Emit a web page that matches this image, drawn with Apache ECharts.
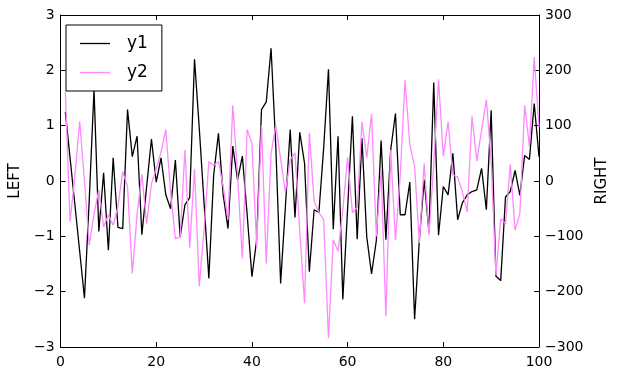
<!DOCTYPE html>
<html>
<head>
<meta charset="utf-8">
<script src="https://cdn.jsdelivr.net/npm/echarts@6/dist/echarts.min.js"></script>
<style>
  html, body { margin: 0; padding: 0; background: #fff; }
  #chart { width: 618px; height: 377px; }
</style>
</head>
<body>
<div id="chart"></div>
<script>
// x positions 1..100
const xs = [];
for (let i = 1; i <= 100; i++) xs.push(i);

// y1 on the LEFT axis
const y1 = [
  1.25, 0.41, -0.43, -1.27, -2.12, -0.34, 1.65, -0.91, 0.15, -1.25,
  0.42, -0.84, -0.86, 1.29, 0.44, 0.81, -0.97, -0.1, 0.76, -0.02,
  0.42, -0.25, -0.5, 0.38, -1.01, -0.43, -0.3, 2.2, 0.95, -0.4,
  -1.76, 0.1, 0.86, -0.25, -0.86, 0.63, 0.02, 0.45, -0.6, -1.73,
  -1.06, 1.29, 1.43, 2.4, 0.6, -1.85, -0.46, 0.93, -0.66, 0.88,
  0.32, -1.64, -0.52, -0.57, 0.6, 2.02, -0.87, 0.81, -2.14, -0.5,
  1.17, -1.05, 0.77, -1.01, -1.68, -1.08, 0.73, -1.06, 0.56, 1.22,
  -0.61, -0.61, -0.02, -2.5, -1.06, 0.02, -0.92, 1.78, -0.98, -0.1,
  -0.25, 0.5, -0.7, -0.39, -0.25, -0.19, -0.16, 0.23, -0.52, 1.28,
  -1.72, -1.8, -0.29, -0.19, 0.19, -0.26, 0.46, 0.39, 1.4, 0.44
];

// y2 on the RIGHT axis
const y2 = [
  162, -73, 10, 108, 0, -116, -60, -16, -83, -61,
  -80, -46, 17, -10, -167, -60, 12, -77, -5, 22,
  52, 93, -20, -104, -101, 56, -120, 22, -190, -88,
  35, 28, 35, -10, -70, 137, 10, -140, 93, 68,
  -120, 101, -149, 50, 100, 40, -20, 38, 51, -90,
  -221, 87, -37, -57, -70, -284, -106, -127, -52, 43,
  -57, -48, 107, 42, 121, -100, 20, -245, 56, -107,
  10, 182, 66, 26, -112, 32, -98, 30, 184, 45,
  107, 11, 7, -20, -56, 117, 36, 92, 147, 35,
  -170, -68, -77, 30, -89, -59, 137, 62, 224, 97
];

const font = 'DejaVu Sans';
const pink = '#ff88ff';
const minus = v => String(v).replace('-', '\u2212');

const chart = echarts.init(document.getElementById('chart'), null, { renderer: 'canvas' });

const tick = { show: true, inside: true, length: 5, lineStyle: { color: '#000', width: 1 } };
const line = { show: true, onZero: false, lineStyle: { color: '#000', width: 1 } };

chart.setOption({
  animation: false,
  backgroundColor: '#fff',
  grid: { left: 56, right: 79, top: 15, bottom: 30 },
  legend: {
    orient: 'vertical',
    left: 66,
    top: 25,
    padding: [10, 14, 10, 14],
    itemGap: 12,
    itemWidth: 30,
    itemHeight: 1.3,
    borderColor: '#000',
    borderWidth: 1,
    borderRadius: 0,
    backgroundColor: '#fff',
    textStyle: { fontFamily: font, fontSize: 17, color: '#000', lineHeight: 16, padding: [0, 0, 0, 12] },
    data: [
      { name: 'y1', icon: 'rect', itemStyle: { color: '#000' } },
      { name: 'y2', icon: 'rect', itemStyle: { color: pink } }
    ]
  },
  xAxis: [
    {
      type: 'value', min: 0, max: 100, interval: 20, position: 'bottom',
      axisLine: line, axisTick: tick, splitLine: { show: false },
      axisLabel: { fontFamily: font, fontSize: 14, color: '#000', margin: 8 }
    },
    {
      type: 'value', min: 0, max: 100, interval: 20, position: 'top',
      axisLine: line, axisTick: tick, splitLine: { show: false },
      axisLabel: { show: false }
    }
  ],
  yAxis: [
    {
      type: 'value', min: -3, max: 3, interval: 1, position: 'left',
      name: 'LEFT', nameLocation: 'middle', nameGap: 33, nameRotate: 90,
      nameTextStyle: { fontFamily: font, fontSize: 15, color: '#000' },
      axisLine: line, axisTick: tick, splitLine: { show: false },
      axisLabel: { fontFamily: font, fontSize: 14, color: '#000', margin: 6, formatter: minus }
    },
    {
      type: 'value', min: -300, max: 300, interval: 100, position: 'right',
      name: 'RIGHT', nameLocation: 'middle', nameGap: 55, nameRotate: 90,
      nameTextStyle: { fontFamily: font, fontSize: 15, color: '#000' },
      axisLine: line, axisTick: tick, splitLine: { show: false },
      axisLabel: { fontFamily: font, fontSize: 14, color: '#000', margin: 6, formatter: minus }
    }
  ],
  series: [
    {
      name: 'y1', type: 'line', xAxisIndex: 0, yAxisIndex: 0,
      symbol: 'none', color: '#000',
      lineStyle: { color: '#000', width: 1.3 },
      data: xs.map((x, i) => [x, y1[i]])
    },
    {
      name: 'y2', type: 'line', xAxisIndex: 0, yAxisIndex: 1,
      symbol: 'none', color: pink,
      lineStyle: { color: pink, width: 1.3 },
      data: xs.map((x, i) => [x, y2[i]])
    }
  ]
});
</script>
</body>
</html>
